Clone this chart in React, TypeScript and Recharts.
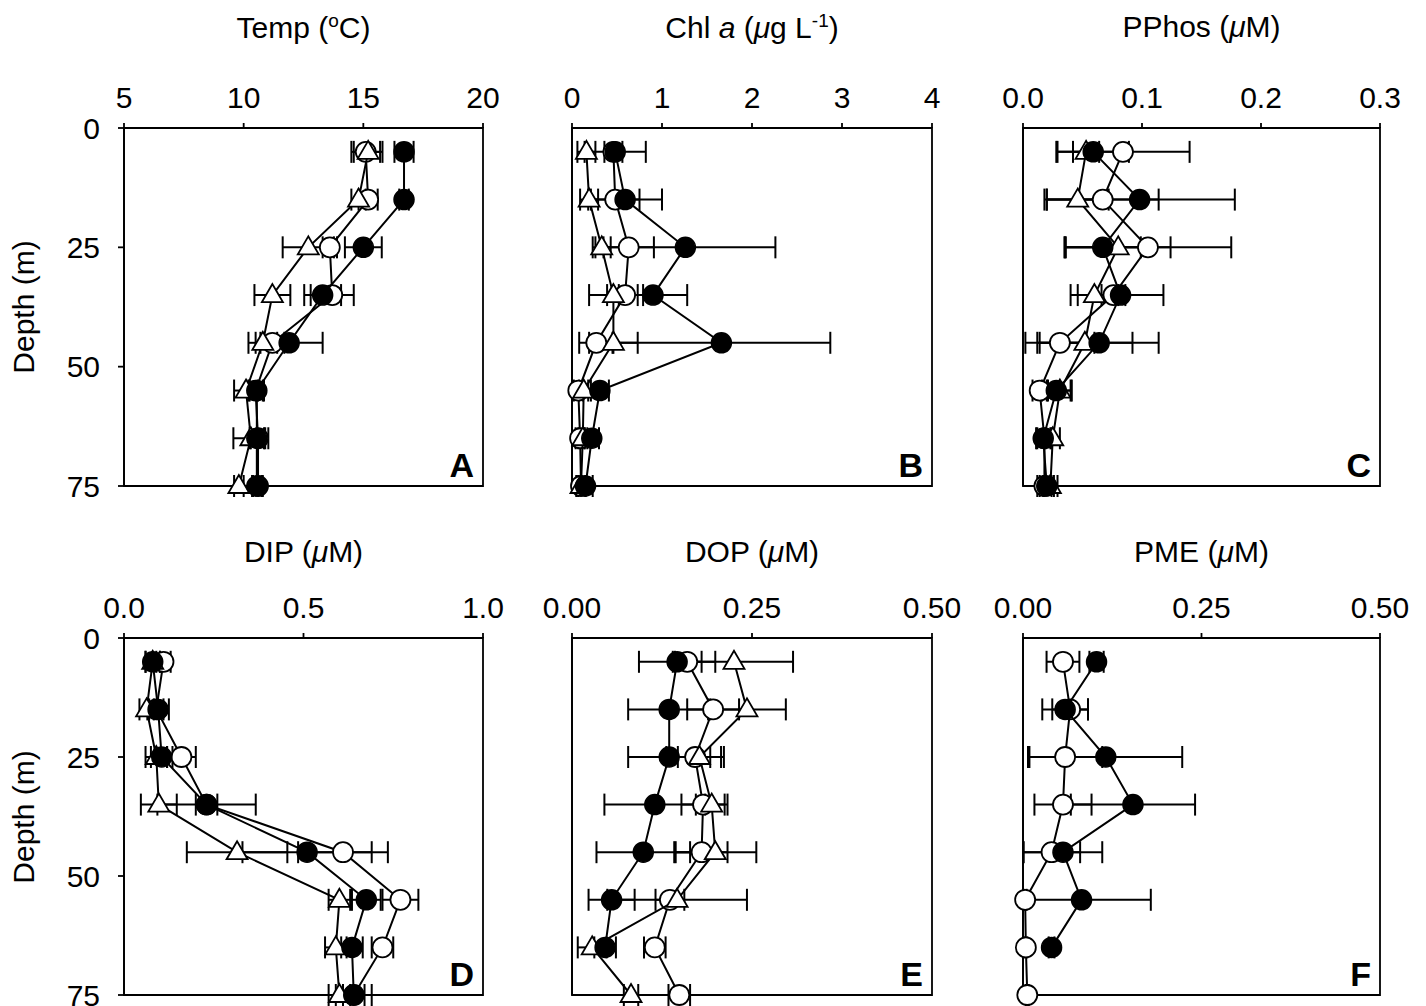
import React from 'react';
import { ScatterChart, Scatter, XAxis, YAxis, ErrorBar, ReferenceArea } from 'recharts';

// depth of every sample (m)
const depths = [5, 15, 25, 35, 45, 55, 65, 75];
const depthTicks = [0, 25, 50, 75];

// A: temperature
const tempFilled = [16.7, 16.7, 15.0, 13.3, 11.9, 10.55, 10.55, 10.55];
const tempFilledErr = [0.4, 0.2, 0.77, 0.77, 1.4, 0.3, 0.3, 0.2];
const tempOpen = [15.1, 15.2, 13.6, 13.7, 11.2, 10.5, 10.6, 10.6];
const tempOpenErr = [0.6, 0.4, 0.3, 0.9, 0.5, 0.3, 0.3, 0.2];
const tempTri = [15.2, 14.8, 12.7, 11.2, 10.8, 10.1, 10.3, 9.8];
const tempTriErr = [0.6, 0.3, 1.07, 0.75, 0.6, 0.5, 0.73, 0.2];

// B: chlorophyll a
const chlFilled = [0.48, 0.59, 1.26, 0.9, 1.66, 0.31, 0.22, 0.15];
const chlFilledErr = [0.34, 0.41, 1.0, 0.38, 1.21, 0.1, 0.08, 0.08];
const chlOpen = [0.46, 0.48, 0.63, 0.59, 0.27, 0.07, 0.09, 0.1];
const chlOpenErr = [0.1, 0.27, 0.28, 0.2, 0.19, 0.05, 0.05, 0.05];
const chlTri = [0.16, 0.19, 0.33, 0.46, 0.46, 0.13, 0.12, 0.1];
const chlTriErr = [0.1, 0.1, 0.1, 0.27, 0.27, 0.05, 0.05, 0.05];

// C: particulate phosphorus
const ppFilled = [0.059, 0.098, 0.067, 0.082, 0.064, 0.028, 0.017, 0.02];
const ppFilledErr = [0.03, 0.08, 0.032, 0.036, 0.05, 0.012, 0.006, 0.006];
const ppOpen = [0.084, 0.067, 0.105, 0.076, 0.031, 0.014, 0.018, 0.018];
const ppOpenErr = [0.056, 0.047, 0.07, 0.01, 0.029, 0.006, 0.006, 0.006];
const ppTri = [0.053, 0.046, 0.08, 0.06, 0.052, 0.031, 0.025, 0.023];
const ppTriErr = [0.011, 0.026, 0.044, 0.02, 0.04, 0.01, 0.006, 0.006];

// D: dissolved inorganic P
const dipFilled = [0.08, 0.095, 0.105, 0.23, 0.51, 0.675, 0.635, 0.64];
const dipFilledErr = [0.02, 0.03, 0.03, 0.137, 0.18, 0.04, 0.03, 0.05];
const dipOpen = [0.11, 0.09, 0.16, 0.23, 0.61, 0.77, 0.72, 0.64];
const dipOpenErr = [0.02, 0.02, 0.04, 0.03, 0.125, 0.05, 0.03, 0.03];
const dipTri = [0.08, 0.063, 0.09, 0.097, 0.315, 0.6, 0.59, 0.6];
const dipTriErr = [0.02, 0.02, 0.03, 0.05, 0.14, 0.03, 0.03, 0.03];

// E: dissolved organic P
const dopFilled = [0.146, 0.135, 0.135, 0.115, 0.099, 0.055, 0.046, null];
const dopFilledErr = [0.053, 0.057, 0.057, 0.07, 0.065, 0.032, 0.015, null];
const dopOpen = [0.16, 0.196, 0.171, 0.182, 0.18, 0.136, 0.115, 0.149];
const dopOpenErr = [0.02, 0.036, 0.04, 0.03, 0.036, 0.02, 0.015, 0.015];
const dopTri = [0.225, 0.243, 0.177, 0.194, 0.199, 0.146, 0.028, 0.082];
const dopTriErr = [0.082, 0.054, 0.03, 0.022, 0.057, 0.097, 0.02, 0.01];

// F: phosphomonoesters
const pmeFilled = [0.103, 0.059, 0.116, 0.154, 0.056, 0.082, 0.04, null];
const pmeFilledErr = [0.01, 0.032, 0.107, 0.087, 0.055, 0.097, 0.004, null];
const pmeOpen = [0.056, 0.066, 0.059, 0.056, 0.04, 0.003, 0.004, 0.006];
const pmeOpenErr = [0.023, 0.025, 0.052, 0.04, 0.04, 0.002, 0.002, 0.002];

type Pt = { x: number; y: number; e: [number, number] };

// error bars stop at the left axis, as in the original figure
const toPoints = (vals: (number | null)[], errs: (number | null)[], axisMin: number): Pt[] =>
  depths
    .map((d, i) => {
      const x = vals[i] as number;
      const err = (errs[i] ?? 0) as number;
      return { x, y: d, e: [Math.min(err, x - axisMin), err] as [number, number] };
    })
    .filter(p => p.x != null);

const filledDot = (p: any) => <circle cx={p.cx} cy={p.cy} r={10} fill="#000" stroke="#000" strokeWidth={1.5} />;
const openDot = (p: any) => <circle cx={p.cx} cy={p.cy} r={10} fill="#fff" stroke="#000" strokeWidth={1.8} />;
const triDot = (p: any) => (
  <polygon
    points={`${p.cx},${p.cy - 11} ${p.cx - 10.5},${p.cy + 7} ${p.cx + 10.5},${p.cy + 7}`}
    fill="#fff"
    stroke="#000"
    strokeWidth={1.8}
  />
);

const FONT = '"Liberation Sans", Arial, sans-serif';

interface Series {
  name: string;
  data: Pt[];
  shape: (p: any) => React.ReactElement;
}

interface PanelProps {
  left: number;
  top: number;
  w: number;
  h: number;
  titleGap: number;
  domain: [number, number];
  ticks: number[];
  digits: number;
  yLabels: boolean;
  series: Series[];
  title: React.ReactNode;
  letter: string;
}

const Panel: React.FC<PanelProps> = ({ left, top, w, h, titleGap, domain, ticks, digits, yLabels, series, title, letter }) => (
  <>
    <div
      style={{
        position: 'absolute',
        left: left - 80,
        top: top - titleGap,
        width: w + 160,
        textAlign: 'center',
        fontSize: 30,
        lineHeight: 'normal',
        whiteSpace: 'nowrap',
      }}
    >
      {title}
    </div>
    <div style={{ position: 'absolute', left: left - 80, top: top - 60 }}>
      <ScatterChart width={w + 130} height={h + 80} margin={{ top: 0, right: 50, bottom: 20, left: 0 }}>
        <XAxis
          type="number"
          dataKey="x"
          orientation="top"
          domain={domain}
          ticks={ticks}
          interval={0}
          height={60}
          stroke="#000"
          strokeWidth={1.8}
          tickSize={5}
          tickMargin={15}
          tick={{ fill: '#000', fontSize: 30, fontFamily: FONT }}
          tickFormatter={(v: number) => v.toFixed(digits)}
        />
        <YAxis
          type="number"
          dataKey="y"
          domain={[0, 75]}
          reversed
          ticks={depthTicks}
          interval={0}
          width={80}
          stroke="#000"
          strokeWidth={1.8}
          tickSize={6}
          tickMargin={18}
          tick={yLabels ? { fill: '#000', fontSize: 30, fontFamily: FONT } : false}
        />
        <ReferenceArea x1={domain[0]} x2={domain[1]} y1={0} y2={75} fill="none" stroke="#000" strokeWidth={1.8} />
        {series.map(s => (
          <Scatter
            key={s.name}
            name={s.name}
            data={s.data}
            line={{ stroke: '#000', strokeWidth: 2 }}
            lineType="joint"
            shape={s.shape}
            isAnimationActive={false}
          >
            <ErrorBar dataKey="e" direction="x" width={11} stroke="#000" strokeWidth={2} />
          </Scatter>
        ))}
      </ScatterChart>
    </div>
    <div
      style={{
        position: 'absolute',
        left: left + w - 109,
        top: top + h - 38,
        width: 100,
        textAlign: 'right',
        fontSize: 34,
        fontWeight: 'bold',
        lineHeight: '34px',
      }}
    >
      {letter}
    </div>
  </>
);

const DepthLabel: React.FC<{ cy: number }> = ({ cy }) => (
  <div
    style={{
      position: 'absolute',
      left: 24 - 100,
      top: cy - 15,
      width: 200,
      height: 30,
      lineHeight: '30px',
      textAlign: 'center',
      fontSize: 30,
      transform: 'rotate(-90deg)',
    }}
  >
    Depth (m)
  </div>
);

const mu = <i>&mu;</i>;
const sup = { fontSize: 19, verticalAlign: 11 };

export default function App() {
  const cols = [124, 572, 1023];
  const widths = [359, 360, 357];
  const rows = [128, 638];
  const heights = [358, 357];
  const titleGaps = [118, 103];

  return (
    <div
      style={{
        position: 'absolute',
        left: 0,
        top: 0,
        width: 1426,
        height: 1006,
        background: '#fff',
        fontFamily: FONT,
        color: '#000',
        overflow: 'hidden',
      }}
    >
      <DepthLabel cy={307} />
      <DepthLabel cy={817} />
      <Panel
        left={cols[0]} top={rows[0]} w={widths[0]} h={heights[0]} titleGap={titleGaps[0]}
        domain={[5, 20]} ticks={[5, 10, 15, 20]} digits={0} yLabels
        title={<>Temp (<sup style={sup}>o</sup>C)</>}
        letter="A"
        series={[
          { name: 'open', data: toPoints(tempOpen, tempOpenErr, 5), shape: openDot },
          { name: 'tri', data: toPoints(tempTri, tempTriErr, 5), shape: triDot },
          { name: 'filled', data: toPoints(tempFilled, tempFilledErr, 5), shape: filledDot },
        ]}
      />
      <Panel
        left={cols[1]} top={rows[0]} w={widths[1]} h={heights[0]} titleGap={titleGaps[0]}
        domain={[0, 4]} ticks={[0, 1, 2, 3, 4]} digits={0} yLabels={false}
        title={<>Chl <i>a</i> ({mu}g L<sup style={sup}>-1</sup>)</>}
        letter="B"
        series={[
          { name: 'open', data: toPoints(chlOpen, chlOpenErr, 0), shape: openDot },
          { name: 'tri', data: toPoints(chlTri, chlTriErr, 0), shape: triDot },
          { name: 'filled', data: toPoints(chlFilled, chlFilledErr, 0), shape: filledDot },
        ]}
      />
      <Panel
        left={cols[2]} top={rows[0]} w={widths[2]} h={heights[0]} titleGap={titleGaps[0]}
        domain={[0, 0.3]} ticks={[0, 0.1, 0.2, 0.3]} digits={1} yLabels={false}
        title={<>PPhos ({mu}M)</>}
        letter="C"
        series={[
          { name: 'open', data: toPoints(ppOpen, ppOpenErr, 0), shape: openDot },
          { name: 'tri', data: toPoints(ppTri, ppTriErr, 0), shape: triDot },
          { name: 'filled', data: toPoints(ppFilled, ppFilledErr, 0), shape: filledDot },
        ]}
      />
      <Panel
        left={cols[0]} top={rows[1]} w={widths[0]} h={heights[1]} titleGap={titleGaps[1]}
        domain={[0, 1]} ticks={[0, 0.5, 1]} digits={1} yLabels
        title={<>DIP ({mu}M)</>}
        letter="D"
        series={[
          { name: 'open', data: toPoints(dipOpen, dipOpenErr, 0), shape: openDot },
          { name: 'tri', data: toPoints(dipTri, dipTriErr, 0), shape: triDot },
          { name: 'filled', data: toPoints(dipFilled, dipFilledErr, 0), shape: filledDot },
        ]}
      />
      <Panel
        left={cols[1]} top={rows[1]} w={widths[1]} h={heights[1]} titleGap={titleGaps[1]}
        domain={[0, 0.5]} ticks={[0, 0.25, 0.5]} digits={2} yLabels={false}
        title={<>DOP ({mu}M)</>}
        letter="E"
        series={[
          { name: 'open', data: toPoints(dopOpen, dopOpenErr, 0), shape: openDot },
          { name: 'tri', data: toPoints(dopTri, dopTriErr, 0), shape: triDot },
          { name: 'filled', data: toPoints(dopFilled, dopFilledErr, 0), shape: filledDot },
        ]}
      />
      <Panel
        left={cols[2]} top={rows[1]} w={widths[2]} h={heights[1]} titleGap={titleGaps[1]}
        domain={[0, 0.5]} ticks={[0, 0.25, 0.5]} digits={2} yLabels={false}
        title={<>PME ({mu}M)</>}
        letter="F"
        series={[
          { name: 'open', data: toPoints(pmeOpen, pmeOpenErr, 0), shape: openDot },
          { name: 'filled', data: toPoints(pmeFilled, pmeFilledErr, 0), shape: filledDot },
        ]}
      />
    </div>
  );
}
